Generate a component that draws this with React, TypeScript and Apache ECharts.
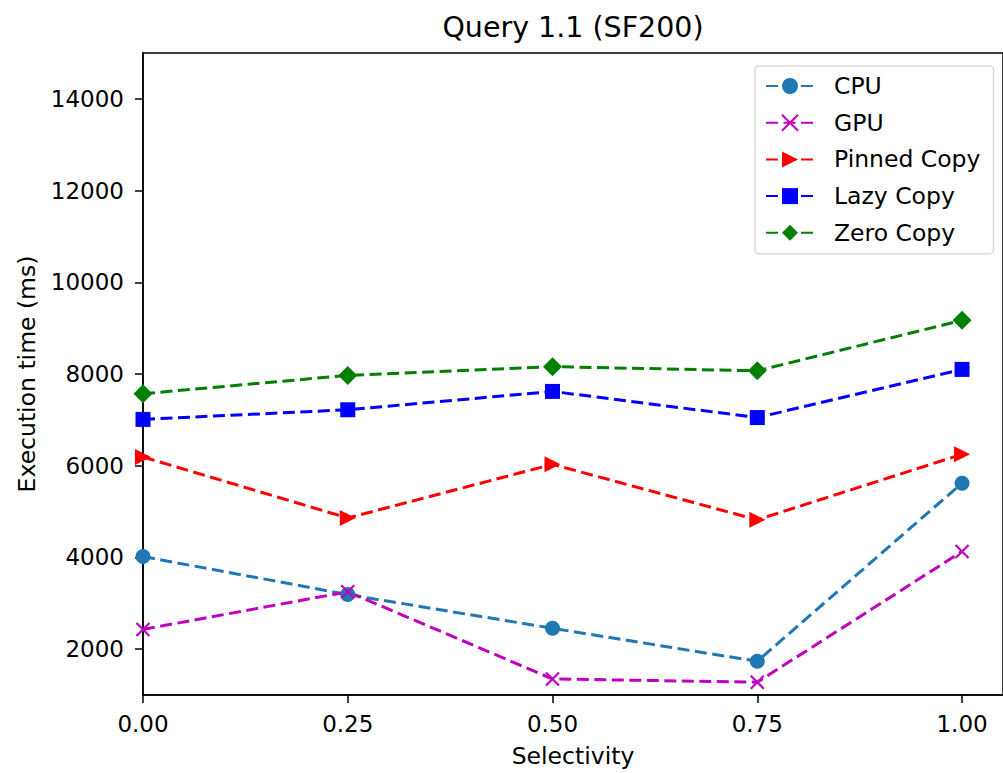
import React, { useEffect, useRef } from "react";
import * as echarts from "echarts";

const selectivity = [0, 0.25, 0.5, 0.75, 1.0];
const cpu = [4020, 3190, 2455, 1735, 5620];
const gpu = [2430, 3250, 1350, 1280, 4130];
const pinnedCopy = [6190, 4860, 6030, 4820, 6250];
const lazyCopy = [7010, 7220, 7620, 7050, 8100];
const zeroCopy = [7570, 7970, 8160, 8070, 9170];
const xTicks = [0, 0.25, 0.5, 0.75, 1.0];
const yTicks = [2000, 4000, 6000, 8000, 10000, 12000, 14000];

const FONT = "DejaVu Sans";
const X_PATH = "path://M0,0L10,10M10,0L0,10";

export default function App() {
  const ref = useRef<HTMLDivElement>(null);
  useEffect(() => {
    const chart = echarts.init(ref.current!, null, { renderer: "svg" });
    const pts = (ys: number[]) => selectivity.map((x, i) => [x, ys[i]]);
    const dash = [12, 5.5];
    const mk = (name: string, ys: number[], color: string, symbol: string, size: number, extra: any = {}) => ({
      name,
      type: "line",
      data: pts(ys),
      symbol,
      symbolSize: size,
      showSymbol: true,
      lineStyle: { color, width: 3, type: dash },
      itemStyle: { color, borderColor: color, borderWidth: 0 },
      emphasis: { disabled: true },
      z: 3,
      ...extra,
    });
    chart.setOption({
      animation: false,
      textStyle: { fontFamily: FONT },
      title: {
        text: "Query 1.1 (SF200)",
        left: 568,
        top: 8,
        textAlign: "center",
        textStyle: { fontFamily: FONT, fontSize: 28.5, fontWeight: "normal", color: "#000" },
      },
      grid: {
        left: 143,
        top: 53,
        width: 861,
        height: 642,
        show: true,
        borderColor: "#000",
        borderWidth: 1.5,
        backgroundColor: "transparent",
      },
      legend: {
        orient: "vertical",
        left: 755,
        top: 66,
        padding: [8, 13, 9, 10],
        itemGap: 12.7,
        itemWidth: 48,
        itemHeight: 20,
        backgroundColor: "#fff",
        borderColor: "#d0d0d0",
        borderWidth: 1.2,
        borderRadius: 4,
        textStyle: { fontFamily: FONT, fontSize: 23.5, color: "#000", padding: [0, 0, 0, 15] },
        data: ["CPU", "GPU", "Pinned Copy", "Lazy Copy", "Zero Copy"],
      },
      xAxis: {
        type: "value",
        min: 0,
        max: 1.05,
        name: "Selectivity",
        nameLocation: "middle",
        nameGap: 49,
        nameTextStyle: { fontFamily: FONT, fontSize: 23.5, color: "#000" },
        axisLine: { show: true, lineStyle: { color: "#000", width: 1.5 } },
        axisTick: { show: true, length: 8, customValues: xTicks, lineStyle: { color: "#000", width: 1.5 } },
        axisLabel: {
          customValues: xTicks,
          fontFamily: FONT,
          fontSize: 23,
          color: "#000",
          margin: 17,
          formatter: (v: number) => v.toFixed(2),
        },
        splitLine: { show: false },
      },
      yAxis: {
        type: "value",
        min: 1000,
        max: 15000,
        name: "Execution time (ms)",
        nameLocation: "middle",
        nameGap: 104,
        nameTextStyle: { fontFamily: FONT, fontSize: 23.5, color: "#000" },
        axisLine: { show: true, lineStyle: { color: "#000", width: 1.5 } },
        axisTick: { show: true, length: 8, customValues: yTicks, lineStyle: { color: "#000", width: 1.5 } },
        axisLabel: {
          customValues: yTicks,
          fontFamily: FONT,
          fontSize: 23,
          color: "#000",
          margin: 19,
          formatter: (v: number) => String(v),
        },
        splitLine: { show: false },
      },
      series: [
        mk("CPU", cpu, "#1f77b4", "circle", 15),
        {
          ...mk("GPU", gpu, "#bf00bf", X_PATH, 13),
          itemStyle: { color: "none", borderColor: "#bf00bf", borderWidth: 2.2 },
        },
        mk("Pinned Copy", pinnedCopy, "#ff0000", "triangle", 16, { symbolRotate: -90 }),
        mk("Lazy Copy", lazyCopy, "#0000ff", "rect", 15),
        mk("Zero Copy", zeroCopy, "#008000", "diamond", 19),
      ],
    });
    return () => chart.dispose();
  }, []);
  return (
    <div
      ref={ref}
      style={{ position: "fixed", left: 0, top: 0, width: 1003, height: 773, background: "#fff" }}
    />
  );
}
